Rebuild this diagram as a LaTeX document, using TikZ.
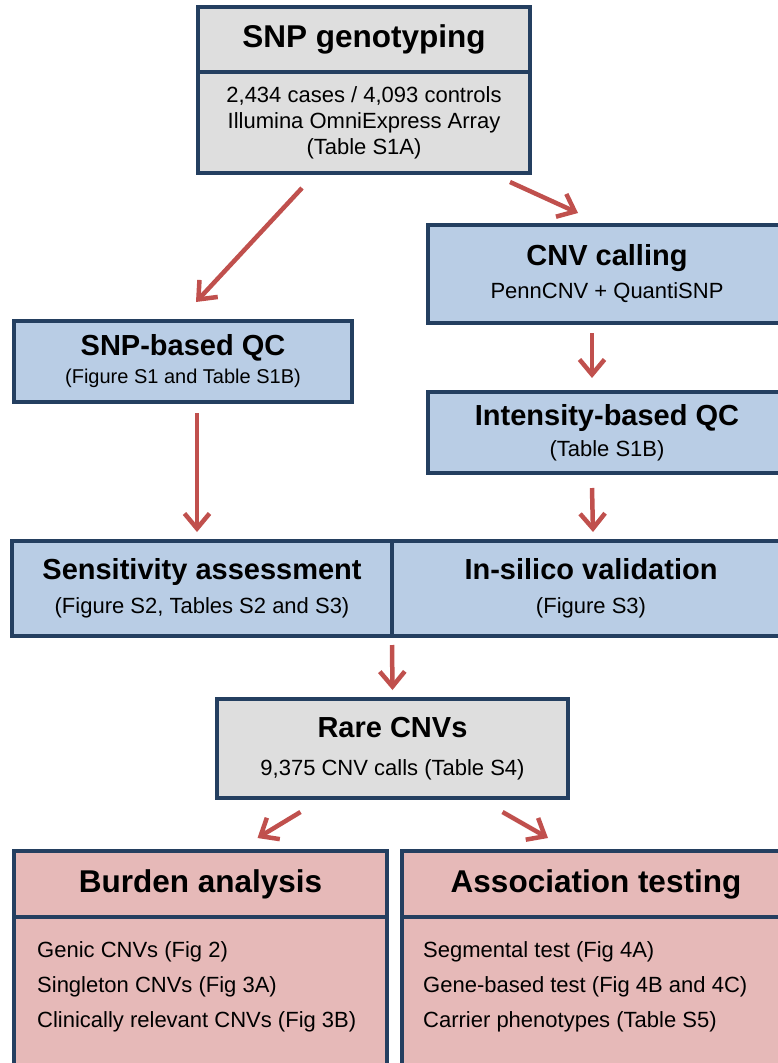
\documentclass[tikz,border=0pt]{standalone}
\usepackage{fontspec}
\setmainfont{Liberation Sans}
\usetikzlibrary{positioning, calc, arrows.meta}

\definecolor{boxline}{HTML}{243F60}
\definecolor{grayfill}{HTML}{DEDEDE}
\definecolor{bluefill}{HTML}{B9CDE5}
\definecolor{pinkfill}{HTML}{E6B9B8}
\definecolor{arrowred}{HTML}{C0504D}

\newcommand\headbig{\fontsize{31.5}{36}\selectfont\bfseries}
\newcommand\headmid{\fontsize{29}{33}\selectfont\bfseries}
\newcommand\itemtxt{\fontsize{22}{35}\selectfont}

\begin{document}
\begin{tikzpicture}[x=1pt, y=-1pt, >={Straight Barb[length=15pt, width=25pt]},
		box/.style={draw=boxline, line width=3.5pt, inner sep=0pt, outer sep=0pt, align=center},
		graybox/.style={box, fill=grayfill},
		bluebox/.style={box, fill=bluefill},
		pinkbox/.style={box, fill=pinkfill},
		flow/.style={->, draw=arrowred, line width=4.5pt},
		listtext/.style={align=left, anchor=north west, inner sep=0pt, font=\itemtxt} ]
	\useasboundingbox (0,0) rectangle (778,1063);
	\clip (0,0) rectangle (778,1063);
	
	%Genotyping
	\node[graybox, minimum width=332pt, minimum height=65pt, font=\headbig] (genohead) at (364,39.5) {SNP genotyping};
	\node[graybox, minimum width=332pt, minimum height=101pt, font=\fontsize{22}{26}\selectfont,
		below=0pt of genohead] (genobody) {2,434 cases / 4,093 controls\\Illumina OmniExpress Array\\(Table S1A)};
	
	%Calling and QC
	\node[bluebox, minimum width=358pt, minimum height=98pt, font=\fontsize{22}{33}\selectfont] (cnvcall) at (607,274)
		{{\headmid CNV calling}\\PennCNV + QuantiSNP};
	\node[bluebox, minimum width=358pt, minimum height=81pt, font=\fontsize{22}{31}\selectfont] (intqc) at (607,432.5)
		{{\headmid Intensity-based QC}\\(Table S1B)};
	\node[bluebox, minimum width=338pt, minimum height=81pt, font=\fontsize{20}{28}\selectfont] (snpqc) at (183,361.5)
		{{\headmid SNP-based QC}\\(Figure S1 and Table S1B)};
	
	%Validation band
	\node[bluebox, minimum width=380pt, minimum height=95pt, font=\fontsize{22}{34}\selectfont] (sens) at (202,588.5)
		{{\headmid Sensitivity assessment}\\(Figure S2, Tables S2 and S3)};
	\node[bluebox, minimum width=398pt, minimum height=95pt, font=\fontsize{22}{34}\selectfont, right=0pt of sens] (insilico)
		{{\headmid In-silico validation}\\(Figure S3)};
	
	%Rare CNVs
	\node[graybox, minimum width=351pt, minimum height=99pt, font=\fontsize{22}{38}\selectfont] (rare) at (392.5,748.5)
		{{\headmid Rare CNVs}\\9,375 CNV calls (Table S4)};
	
	%Analyses
	\node[pinkbox, minimum width=373pt, minimum height=66pt, font=\headbig] (burdenhead) at (200.5,884) {Burden analysis};
	\node[pinkbox, minimum width=373pt, minimum height=163pt, below=0pt of burdenhead] (burdenbody) {};
	\node[listtext] (burdenlist) at ($(burdenbody.north west)+(23,24)$)
		{Genic CNVs (Fig 2)\\Singleton CNVs (Fig 3A)\\Clinically relevant CNVs (Fig 3B)};
	\node[pinkbox, minimum width=388pt, minimum height=66pt, font=\headbig] (assochead) at (596,884) {Association testing};
	\node[pinkbox, minimum width=388pt, minimum height=163pt, below=0pt of assochead] (assocbody) {};
	\node[listtext] (assoclist) at ($(assocbody.north west)+(21,24)$)
		{Segmental test (Fig 4A)\\Gene-based test (Fig 4B and 4C)\\Carrier phenotypes (Table S5)};
	
	%Arrows
	\draw[flow] ($(genobody.south)+(-62,15)$) -- ($(snpqc.north)+(13,-19)$);
	\draw[flow] ($(genobody.south)+(146,9)$) -- ($(cnvcall.north)+(-29,-12)$);
	\draw[flow] ($(cnvcall.south)+(-15,10)$) -- ($(intqc.north)+(-15,-14)$);
	\draw[flow] ($(intqc.south)+(-15,15)$) -- ($(insilico.north)+(2,-9)$);
	\draw[flow] ($(snpqc.south)+(14,11)$) -- ($(sens.north)+(-5,-9)$);
	\draw[flow] ($(sens.south east)+(0,9)$) -- ($(rare.north)+(0,-9)$);
	\draw[flow] ($(rare.south)+(-92,14)$) -- ($(burdenhead.north)+(57,-13)$);
	\draw[flow] ($(rare.south)+(110,14)$) -- ($(assochead.north)+(-48,-13)$);
\end{tikzpicture}
\end{document}
